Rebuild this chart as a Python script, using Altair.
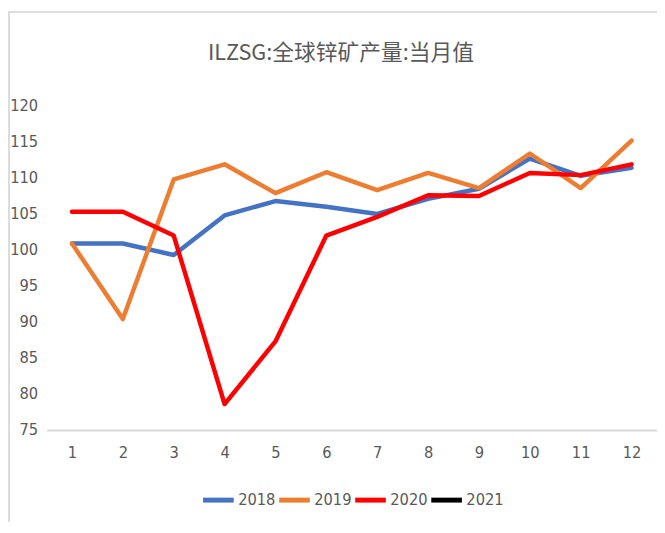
import altair as alt
import pandas as pd

months = [1, 2, 3, 4, 5, 6, 7, 8, 9, 10, 11, 12]
years = ["2018", "2019", "2020", "2021"]
colors = ["#4472C4", "#ED7D31", "#FF0000", "#000000"]
y2018 = [100.9, 100.9, 99.3, 104.8, 106.8, 106.0, 105.0, 107.1, 108.5, 112.7, 110.3, 111.4]
y2019 = [100.9, 90.4, 109.8, 111.9, 107.9, 110.8, 108.3, 110.7, 108.6, 113.4, 108.6, 115.2]
y2020 = [105.3, 105.3, 102.0, 78.6, 87.3, 102.0, 104.6, 107.6, 107.5, 110.7, 110.4, 111.9]
y2021 = []
y_ticks = [75, 80, 85, 90, 95, 100, 105, 110, 115, 120]
title_text = "ILZSG:全球锌矿产量:当月值"

rows = []
for yr, vals in zip(years, [y2018, y2019, y2020, y2021]):
    for m, v in zip(months, vals):
        rows.append({"month": m, "year": yr, "value": v})
df = pd.DataFrame(rows)

FONT = "DejaVu Sans Condensed, Liberation Sans, sans-serif"
GREY = "#595959"

lines = alt.Chart(df).mark_line(strokeWidth=4.5, strokeCap="round", strokeJoin="round").encode(
    x=alt.X("month:O", sort=months,
            axis=alt.Axis(title=None, labelAngle=0, ticks=False, domainColor="#D9D9D9",
                          domainWidth=2, labelPadding=15, labelFont=FONT, labelFontSize=16.5,
                          labelColor=GREY)),
    y=alt.Y("value:Q", scale=alt.Scale(domain=[75, 120], nice=False, zero=False),
            axis=alt.Axis(title=None, values=y_ticks, grid=False, domain=False, ticks=False,
                          labelPadding=9, labelFont=FONT, labelFontSize=16.5, labelColor=GREY)),
    color=alt.Color("year:N", scale=alt.Scale(domain=years, range=colors),
                    legend=alt.Legend(title=None, orient="none", direction="horizontal",
                                      legendX=156, legendY=381, symbolType="stroke",
                                      symbolSize=961, symbolStrokeWidth=5,
                                      labelFont=FONT, labelFontSize=16.5, labelColor=GREY,
                                      labelOffset=2, columnPadding=-7)),
)

title = alt.Chart(pd.DataFrame({"t": [title_text]})).mark_text(
    font="Noto Sans CJK SC", fontSize=22, color=GREY, align="center", baseline="middle"
).encode(text="t:N", x=alt.value(298), y=alt.value(-54))

frame_left = alt.Chart(df).mark_rule(color="#DDDDDD", strokeWidth=2).encode(
    x=alt.value(-38), y=alt.value(-96), y2=alt.value(421))
frame_top = alt.Chart(df).mark_rule(color="#DDDDDD", strokeWidth=2).encode(
    x=alt.value(-38), x2=alt.value(618), y=alt.value(-95))

chart = alt.layer(frame_left, frame_top, title, lines).properties(
    width=618, height=328,
    autosize=alt.AutoSizeParams(type="none"),
    padding={"left": 39, "top": 96, "right": 0, "bottom": 93},
).configure_view(stroke=None)

chart.save("out.html", embed_options={"renderer": "svg", "actions": False})
